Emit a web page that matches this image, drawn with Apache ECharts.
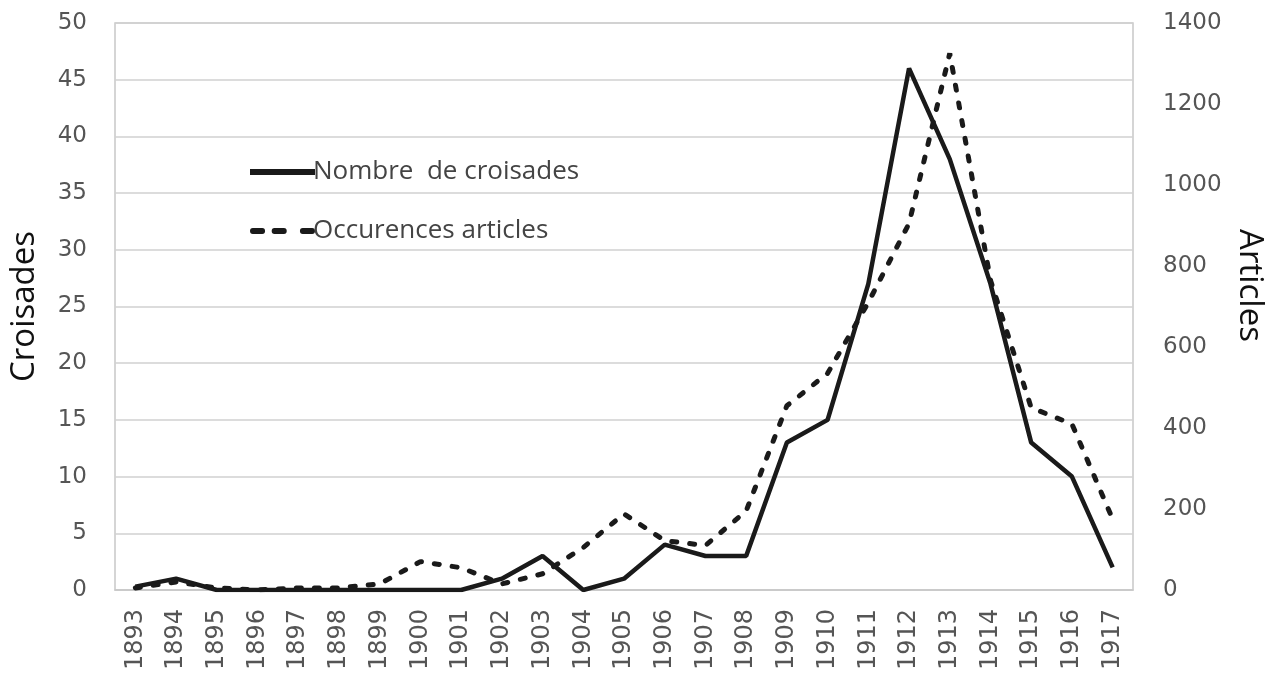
<!DOCTYPE html>
<html>
<head>
<meta charset="utf-8">
<script src="https://cdn.jsdelivr.net/npm/echarts@6/dist/echarts.min.js"></script>
<style>html,body{margin:0;padding:0;background:#fff;}#c{width:1275px;height:676px;}</style>
</head>
<body>
<div id="c"></div>
<script>
const years = ['1893','1894','1895','1896','1897','1898','1899','1900','1901','1902','1903','1904','1905','1906','1907','1908','1909','1910','1911','1912','1913','1914','1915','1916','1917'];
const croisades = [0.3,1,0,0,0,0,0,0,0,1,3,0,1,4,3,3,13,15,27,46,38,27,13,10,2];
const articles = [5,20,5,0,5,5,15,70,55,15,40,105,188,122,110,195,455,535,710,905,1325,765,450,410,175];
const leftTicks = [0,5,10,15,20,25,30,35,40,45,50];
const rightTicks = [0,200,400,600,800,1000,1200,1400];

const chart = echarts.init(document.getElementById('c'), null, {renderer:'canvas'});
const tickFont = 'DejaVu Sans';
const textFont = 'Open Sans';
chart.setOption({
  animation:false,
  backgroundColor:'#fff',
  grid:{left:115,right:142,top:23,bottom:86,show:true,borderColor:'#c8c8c8',borderWidth:1.5},
  legend:{
    orient:'vertical',left:245,top:154,itemWidth:65,itemHeight:6,itemGap:33,
    symbolKeepAspect:false,
    textStyle:{fontFamily:textFont,fontSize:26,color:'#444',padding:[0,0,0,-7]},
    itemStyle:{color:'#1a1a1a',borderWidth:0},
    lineStyle:{width:0},
    data:[
      {name:'Nombre  de croisades',icon:'path://M0,0h65v6h-65z'},
      {name:'Occurences articles',icon:'path://M1,0h10a3,3 0 0 1 0,6h-10a3,3 0 0 1 0,-6z M24,0h10a3,3 0 0 1 0,6h-10a3,3 0 0 1 0,-6z M54,0h10a3,3 0 0 1 0,6h-10a3,3 0 0 1 0,-6z'}
    ]
  },
  xAxis:{
    type:'category',data:years,boundaryGap:true,
    axisLine:{show:true,lineStyle:{color:'#c8c8c8',width:1.5}},
    axisTick:{show:false},
    axisLabel:{rotate:90,fontFamily:tickFont,fontSize:24,color:'#555',margin:19,interval:0}
  },
  yAxis:[
    {type:'value',min:0,max:50,interval:5,name:'Croisades',nameLocation:'middle',nameGap:74,
     nameTextStyle:{fontFamily:textFont,fontSize:33,color:'#111'},
     axisLine:{show:false},axisTick:{show:false},
     axisLabel:{fontFamily:tickFont,fontSize:23,color:'#555',margin:28},
     splitLine:{lineStyle:{color:'#d0d0d0',width:1.5}}},
    {type:'value',min:0,max:1400,interval:200,name:'Articles',nameLocation:'middle',nameGap:92,nameRotate:-90,
     nameTextStyle:{fontFamily:textFont,fontSize:33,color:'#111',padding:[0,42,0,0]},
     axisLine:{show:false},axisTick:{show:false},
     axisLabel:{fontFamily:tickFont,fontSize:23,color:'#555',margin:30,formatter:function(v){return String(v);}},
     splitLine:{show:false}}
  ],
  series:[
    {name:'Nombre  de croisades',type:'line',yAxisIndex:0,data:croisades,symbol:'none',
     lineStyle:{color:'#1a1a1a',width:4.5},itemStyle:{color:'#1a1a1a'}},
    {name:'Occurences articles',type:'line',yAxisIndex:1,data:articles,symbol:'none',
     lineStyle:{color:'#1a1a1a',width:5,type:[5,13],cap:'round'},itemStyle:{color:'#1a1a1a'}}
  ]
});
</script>
</body>
</html>
